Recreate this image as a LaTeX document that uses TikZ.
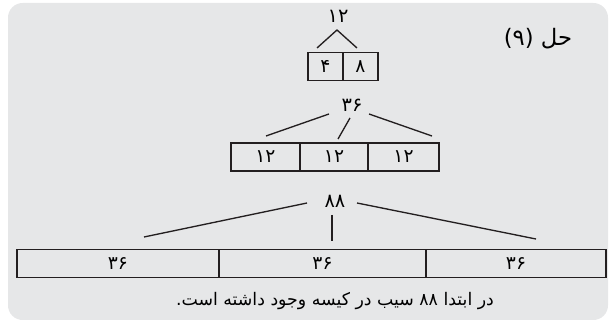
\documentclass[tikz,border=0pt]{standalone}
\usepackage{fontspec}
\newfontfamily\arabicfont[Script=Arabic]{DejaVu Sans}
\TeXXeTstate=1
\usepackage{xcolor}
\usetikzlibrary{calc}
\definecolor{panel}{HTML}{E6E7E8}
\definecolor{ink}{HTML}{231F20}

\begin{document}
\begin{tikzpicture}[x=0.75pt,y=-0.75pt,
  cell/.style={draw=ink,line width=1pt,inner sep=0pt,outer sep=0pt,
               minimum height=21pt,font=\arabicfont\fontsize{14}{16}\selectfont},
  num/.style={inner sep=1pt,font=\arabicfont\fontsize{14.5}{16}\selectfont},
  link/.style={draw=ink,line width=1pt}]
\useasboundingbox (0,0) rectangle (611,323);
\fill[panel,rounded corners=11pt] (8,3) rectangle (608,320);

% top: 12 -> 4 + 8
\node[num] (t12) at (338,16) {۱۲};
\node[cell,minimum width=26.25pt] (t1) at (325.5,66.5) {۴};
\node[cell,minimum width=26.25pt] (t2) at (360.5,66.5) {۸};
\coordinate (ta) at (337,30);
\coordinate (tl) at (317,48);
\coordinate (tr) at (357,48);
\draw[link] (tl) -- (ta) -- (tr);

% middle: 36 -> 12 + 12 + 12
\node[num] (m36) at (352,105) {۳۶};
\foreach \i/\xa/\xb in {1/231/300,2/300/368,3/368/439}
  \node[cell,minimum width={(\xb-\xa)*0.75pt}] (m\i) at ({(\xa+\xb)/2},157) {۱۲};
\coordinate (ml0) at (329,114);
\coordinate (ml1) at (266,136);
\coordinate (mc0) at (350,118);
\coordinate (mc1) at (338,139);
\coordinate (mr0) at (369,114);
\coordinate (mr1) at (432,136);
\draw[link] (ml0) -- (ml1);
\draw[link] (mc0) -- (mc1);
\draw[link] (mr0) -- (mr1);

% bottom: 88 -> 36 + 36 + 36
\node[num] (b88) at (335,201) {۸۸};
\foreach \i/\xa/\xb in {1/17/219,2/219/426,3/426/606}
  \node[cell,minimum width={(\xb-\xa)*0.75pt}] (b\i) at ({(\xa+\xb)/2},263.5) {۳۶};
\coordinate (bl0) at (307,203);
\coordinate (bl1) at (144,237);
\coordinate (bc0) at (332,215);
\coordinate (bc1) at (332,241);
\coordinate (br0) at (357,203);
\coordinate (br1) at (536,239);
\draw[link] (bl0) -- (bl1);
\draw[link] (bc0) -- (bc1);
\draw[link] (br0) -- (br1);

\node[inner sep=0pt,font=\arabicfont\fontsize{17}{19}\selectfont] (title) at (538,39) {(۹)~\beginR حل\endR};
\node[inner sep=0pt,font=\arabicfont\fontsize{13}{15}\selectfont] (note) at (335,301)
  {\beginR در ابتدا ۸۸ سیب در کیسه وجود داشته است.\endR};
\end{tikzpicture}
\end{document}
